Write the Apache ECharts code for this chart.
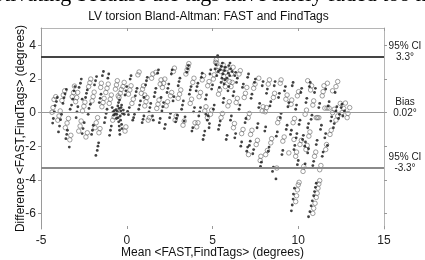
<!DOCTYPE html>
<html>
<head>
<meta charset="utf-8">
<script src="https://cdn.jsdelivr.net/npm/echarts@6/dist/echarts.min.js"></script>
<style>
html,body{margin:0;padding:0;background:#fff;}
#chart{width:425px;height:260px;}
</style>
</head>
<body>
<div id="chart"></div>
<script>
// ---- data ----
const titleText = 'LV torsion Bland-Altman: FAST and FindTags';
const xName = 'Mean <FAST,FindTags> (degrees)';
const yName = 'Difference <FAST,FindTags> (degrees)';
const captionText = 'motivating because the tags have likely faded too much';
const xTicks = [-5, 0, 5, 10, 15];
const yTicks = [-6, -4, -2, 0, 2, 4];
const xRange = [-5, 15];
const yRange = [-6.93, 5.04];
const limitValues = [3.3, 0.02, -3.3];
const limitLabels = ['95% CI\n3.3\u00b0', 'Bias\n0.02\u00b0', '95% CI\n-3.3\u00b0'];

const filledPoints = [
[-4.32,-0.62],[-4.28,-0.35],[-4.22,0.05],[-4.18,0.42],[-4.1,0.66],[-4.05,0.9],
[-3.98,-1.15],[-3.92,-0.8],[-3.86,-0.42],[-3.8,-0.1],
[-3.72,0.55],[-3.66,0.88],[-3.6,1.12],[-3.52,1.38],
[-3.55,-1.55],[-3.5,-1.3],[-3.46,-1.05],[-3.35,-2.05],
[-3.3,0.2],[-3.22,0.45],[-3.15,0.8],[-3.08,1.3],[-3.02,1.55],
[-2.95,-0.3],[-2.9,0.05],[-2.85,0.35],[-2.78,1.5],[-2.7,1.75],[-2.65,2.0],
[-2.6,-1.25],[-2.55,-0.95],[-2.48,-0.6],[-2.4,0.9],[-2.35,1.15],[-2.3,1.35],
[-2.25,-0.1],[-2.2,0.25],[-2.12,0.5],[-2.05,-1.3],[-2.0,-1.05],[-1.95,-0.75],
[-1.88,1.65],[-1.82,1.9],[-1.76,2.15],[-1.72,-2.25],[-1.68,-2.0],[-1.64,-1.8],[-1.8,-2.55],
[-1.6,0.6],[-1.55,0.85],[-1.5,1.1],[-2.6,0.8],
[-1.42,2.2],[-1.36,2.45],[-1.3,-0.6],[-1.25,-0.3],[-1.2,-0.05],[-1.15,0.2],
[-1.1,2.05],[-1.05,2.3],[-1.0,-1.35],[-0.95,-1.05],[-0.9,-0.8],
[-0.85,0.3],[-0.8,0.05],[-0.76,-0.15],[-0.72,0.12],[-0.68,-0.05],[-0.62,0.18],
[-0.58,-0.1],[-0.55,0.08],[-0.5,-0.3],[-0.47,-0.55],[-0.44,-0.8],[-0.42,-1.05],[-0.4,-1.3],
[-0.38,-0.2],[-0.35,0.1],[-0.33,0.3],[-0.3,0.45],[-0.25,-0.05],[-0.2,0.15],[-0.15,-0.1],
[-0.3,-0.7],[-0.28,-0.95],[-0.1,1.05],[-0.05,1.3],[0.0,1.55],
[-0.45,0.25],[-0.52,0.4],[-0.36,-0.45],[-0.6,-0.35],[-0.48,0.6],[-0.42,0.75],
[0.05,0.08],[0.1,-0.12],[0.15,0.3],[0.2,2.0],[0.25,2.2],[0.35,-0.45],[0.4,-0.3],[0.45,-0.1],
[0.5,1.0],[0.55,1.25],[0.6,1.45],[0.7,0.2],[0.75,0.45],[0.8,0.7],
[0.9,-0.6],[0.95,-0.4],[1.0,-0.2],[1.1,1.65],[1.15,1.9],[1.2,2.1],[1.0,0.9],
[1.3,0.05],[1.35,0.3],[1.4,0.55],[1.5,-0.2],[1.55,-0.45],[1.6,0.95],[1.65,1.2],[1.7,1.45],
[1.8,2.35],[1.85,2.55],[1.9,-0.6],[1.95,-0.35],[2.0,0.9],
[2.05,0.1],[2.1,0.35],[2.15,0.6],[2.2,-0.95],[2.25,-0.7],[2.35,1.2],[2.4,1.45],[2.45,1.7],
[2.5,-0.3],[2.55,-0.05],[2.6,2.3],[2.65,2.55],[2.7,0.7],[2.75,0.95],
[2.85,-0.55],[2.9,-0.35],[2.95,-0.15],[3.0,1.6],[3.05,1.85],[3.1,2.05],
[3.2,0.2],[3.25,0.45],[3.3,0.7],[3.35,-0.5],[3.4,-0.25],[3.5,2.4],[3.55,2.6],[3.6,2.8],
[3.65,1.1],[3.7,1.35],[3.75,1.55],[3.8,-1.1],[3.85,-0.9],[3.9,0.05],[3.95,0.3],
[4.05,1.3],[4.1,1.55],[4.15,1.75],[4.2,-0.2],[4.25,0.05],[4.3,0.3],[4.35,2.1],[4.4,2.35],
[4.45,-1.6],[4.5,-1.35],[4.55,-1.1],[4.6,0.8],[4.65,1.05],[4.7,-0.45],[4.75,-0.2],[4.8,-0.9],[4.82,-0.65],[4.62,-0.1],
[4.85,2.3],[4.9,2.55],[4.95,1.4],[5.0,1.65],[5.05,0.2],[5.1,0.45],[5.15,2.6],[5.2,2.85],[5.3,3.4],
[5.35,-1.0],[5.4,-0.75],[5.45,-0.5],[5.5,1.8],[5.55,2.05],[5.6,2.3],[5.62,0.6],[5.66,0.85],
[5.7,2.5],[5.75,2.7],[5.8,-1.6],[5.85,-1.35],[5.9,1.3],[5.95,1.55],[6.0,2.2],
[5.45,2.55],[5.52,2.75],[5.58,2.95],[5.68,1.7],[5.72,1.95],[5.85,2.05],[5.92,2.35],[6.05,2.6],[5.4,1.5],
[5.25,2.2],[5.33,2.45],[5.95,2.8],[6.02,2.95],[6.3,2.2],[6.35,2.4],
[6.05,-0.45],[6.1,-0.2],[6.15,2.45],[6.2,1.0],[6.25,1.25],[6.3,-1.5],[6.35,-1.25],[6.4,1.8],[6.45,2.05],
[6.55,0.2],[6.6,0.45],[6.65,-2.0],[6.7,-1.75],[6.75,1.5],[6.8,1.7],[6.9,-0.6],[6.95,-0.35],
[7.0,-2.3],[7.05,-2.05],
[7.05,2.1],[7.1,2.3],[7.15,-1.95],[7.2,-1.7],[7.25,0.85],[7.3,1.1],[7.35,-2.45],[7.4,-2.2],[7.45,1.8],[7.5,2.0],
[7.6,-0.9],[7.65,-0.65],[7.7,0.3],[7.75,0.55],[7.8,-3.2],[7.85,-2.95],[7.9,1.6],[7.95,1.85],
[8.05,-1.1],[8.1,-0.85],[8.15,1.15],[8.2,1.4],[8.25,-2.3],[8.3,-2.05],[8.35,0.4],[8.4,0.65],
[8.5,-3.5],[8.55,-3.25],[8.6,1.6],[8.65,1.85],[8.7,-3.95],[8.72,-1.4],[8.78,-1.15],[8.85,0.9],[8.9,1.15],
[8.95,-0.3],[9.0,-0.05],[9.05,-2.5],[9.1,-2.25],[9.2,1.3],[9.25,1.55],[9.3,-1.0],[9.35,-0.75],[9.4,0.35],[9.45,0.6],
[9.6,-5.85],[9.65,-5.5],[9.7,-5.15],[9.72,-4.85],[9.78,-4.5],
[10.6,-6.2],[10.68,-5.9],[10.75,-5.55],[10.82,-5.25],[10.9,-4.95],[10.95,-4.7],[11.0,-4.45],[11.05,-4.2],
[9.55,-1.3],[9.6,-1.05],[9.65,1.6],[9.7,1.8],[9.75,-2.2],[9.8,-1.95],[9.85,0.2],[9.9,0.45],
[9.88,-1.5],[9.92,-1.25],
[9.95,-3.1],[10.0,-2.85],[10.05,-0.7],[10.1,-0.45],[10.15,1.2],[10.2,1.45],[10.25,-1.6],[10.3,-1.35],
[10.35,-3.3],[10.4,-3.05],[10.45,0.6],[10.5,0.85],[10.55,-2.4],[10.6,-2.15],[10.65,1.55],[10.7,1.8],
[10.38,-2.0],[10.42,-1.75],[10.55,-0.9],[10.6,-0.65],
[10.75,-0.4],[10.8,-0.15],[10.85,-3.15],[10.9,-2.9],[10.95,1.2],[11.0,1.45],[11.05,-1.9],[11.1,-1.65],
[11.2,0.3],[11.25,0.55],[11.3,-1.0],[11.35,-0.75],[11.4,-2.6],[11.45,-2.35],
[11.55,-1.5],[11.6,-1.25],[11.7,-1.95],[11.75,0.4],[11.8,0.65],[11.9,-0.5],[11.95,-0.25],[12.05,-0.9],[12.1,-0.65],
[12.2,0.1],[12.25,0.35],[12.35,-0.35],[12.4,-0.1],[12.5,0.3],[12.55,0.5],[12.6,-0.2],[12.7,0.1],[11.6,1.4],[12.15,1.2]
];

const openPoints = [
[-4.36,0.02],[-4.3,0.3],[-4.24,0.78],[-4.14,0.95],
[-4.02,-0.45],[-3.95,-0.2],[-3.88,0.1],
[-3.78,0.72],[-3.7,1.05],[-3.62,1.3],
[-3.58,-0.9],[-3.48,-0.62],[-3.4,-0.35],[-3.32,-1.62],[-3.26,-1.35],
[-3.18,0.95],[-3.1,1.2],[-3.05,1.58],
[-2.98,0.65],[-2.92,0.9],[-2.86,1.2],[-2.8,-1.1],[-2.72,-0.8],[-2.66,-0.5],
[-2.58,0.1],[-2.5,0.38],[-2.44,0.62],[-2.38,-1.45],[-2.3,-1.2],
[-2.22,1.55],[-2.15,1.78],[-2.1,2.0],[-2.02,0.7],[-1.96,0.95],[-1.9,1.22],
[-1.85,-0.9],[-1.78,-0.6],[-1.7,-0.3],[-1.62,-1.2],[-1.56,-0.95],[-1.52,1.5],[-1.48,1.75],
[-1.45,0.35],[-1.38,0.6],[-1.32,0.85],[-1.22,1.2],[-1.15,1.45],[-1.08,1.7],
[-1.02,0.55],[-0.96,0.8],[-0.9,1.05],[-0.82,-0.45],[-0.74,-0.25],[-0.66,1.4],[-0.6,1.65],[-0.55,1.9],
[-0.45,0.9],[-0.38,1.15],[-0.32,1.38],[-0.22,1.55],[-0.15,1.8],[-0.1,-1.1],[-0.05,-0.85],[-0.5,1.0],
[0.1,1.1],[0.18,1.35],[0.25,1.6],[0.3,0.55],[0.38,0.8],
[0.65,2.25],[0.72,2.42],[0.85,1.15],[0.92,1.4],[0.98,1.6],[1.05,1.05],
[1.05,0.4],[1.12,0.65],[1.18,0.9],[1.25,-0.45],[1.32,-0.3],
[1.45,2.05],[1.52,2.3],[1.7,2.4],[1.75,0.25],[1.82,0.5],[1.88,0.75],[1.95,1.7],[2.0,1.95],
[2.08,1.5],[2.15,1.75],[2.22,2.0],[2.3,0.4],[2.38,0.65],[2.55,1.0],[2.62,1.2],
[2.72,2.45],[2.78,2.65],[2.82,-0.45],[2.88,-0.2],[3.0,0.85],[3.08,1.1],[3.15,1.35],
[3.28,-0.75],[3.35,-0.5],[3.45,2.3],[3.52,2.55],[3.58,2.75],[3.62,2.92],[3.7,0.55],[3.78,0.8],
[3.85,1.8],[3.92,2.05],[3.98,-0.6],
[4.08,-0.85],[4.15,-0.6],[4.22,0.95],[4.3,1.2],[4.4,1.95],[4.48,2.2],[4.55,0.1],[4.62,0.35],
[4.72,1.6],[4.8,1.85],[4.88,-0.1],[4.95,0.15],[5.05,2.0],[5.1,2.25],[5.18,3.0],[5.22,3.15],[5.25,2.95],[4.7,-0.3],
[5.35,1.1],[5.42,1.35],[5.5,-0.3],[5.58,-0.05],[5.65,2.15],[5.7,1.9],[5.78,2.4],[5.82,2.6],[5.9,0.4],[5.98,0.65],
[5.48,2.45],[5.55,2.65],[5.62,2.85],[5.75,1.55],[6.0,1.85],[6.1,2.3],[5.3,2.5],[5.38,2.7],[6.2,2.7],
[6.08,1.55],[6.15,1.8],[6.22,-0.9],[6.28,-0.65],[6.38,0.6],[6.45,0.85],[6.55,2.3],[6.62,2.5],
[6.7,-1.25],[6.78,-1.0],[6.85,0.9],[6.92,1.15],[7.0,1.5],[7.08,-0.3],[7.15,-0.05],[7.22,-1.3],[7.3,-1.05],
[7.4,1.45],[7.48,1.7],[7.55,-1.9],[7.62,-1.65],[7.7,2.05],[7.78,-2.85],[7.82,-2.6],[7.9,0.1],[7.95,0.35],[7.1,-2.5],
[8.08,0.05],[8.15,0.3],[8.25,1.7],[8.32,1.95],[8.4,-1.8],[8.45,-1.55],[8.55,0.9],[8.62,1.15],[8.1,-2.5],[8.2,-2.25],
[8.75,-3.3],[8.8,-0.6],[8.88,-0.35],[8.95,1.75],[9.0,1.95],[9.1,-1.7],[9.18,-1.45],[9.28,0.8],[9.35,1.05],[9.45,-2.4],
[9.85,-5.3],[9.9,-4.95],[9.95,-4.6],[10.0,-4.3],[10.05,-4.15],
[10.85,-6.0],[10.9,-5.7],[10.98,-5.4],[11.05,-5.05],[11.1,-4.8],[11.15,-4.5],[11.2,-4.25],[11.25,-4.05],
[9.58,0.5],[9.62,0.75],[9.7,-0.6],[9.78,-0.35],[9.85,-2.6],[9.9,-2.35],[9.95,1.0],[10.02,1.25],[9.75,-1.6],
[10.1,-1.9],[10.18,-1.65],[10.28,-3.5],[10.32,-3.2],[10.4,-0.1],[10.48,0.15],[10.55,1.9],[10.62,-1.4],[10.68,-1.15],
[10.45,-2.2],[10.52,-1.95],
[10.72,1.35],[10.78,1.6],[10.85,0.45],[10.9,0.7],[10.95,-2.6],[11.02,-2.35],[11.05,-0.3],[11.12,-0.3],[11.2,-0.3],
[11.25,-3.4],[11.32,-3.15],[11.4,1.0],[11.45,1.25],[11.6,-2.2],[11.65,-1.9],
[11.55,0.27],[11.68,0.27],[11.8,0.27],[11.85,-1.3],[11.92,-1.05],[12.0,0.0],[12.1,0.2],[12.2,-0.45],[12.3,-0.2],
[12.45,0.55],[12.55,0.0],[12.65,0.25],[12.75,0.57],[12.85,-0.3],[12.9,-0.05],[13.0,0.3],
[11.5,1.6],[11.7,1.75],[12.0,1.3],[12.2,1.55],[12.3,1.85]
];

// ---- chart ----
const FONT = '"Liberation Sans", Arial, sans-serif';
const AX = '#9a9a9a';
const chart = echarts.init(document.getElementById('chart'), null, {renderer: 'canvas'});

const limitStyles = [
  {color: '#444', width: 2},
  {color: '#999', width: 1},
  {color: '#8a8a8a', width: 2}
];

chart.setOption({
  animation: false,
  backgroundColor: '#fff',
  title: {
    text: titleText, left: 208.5, top: 11, textAlign: 'center', padding: 0,
    textStyle: {fontFamily: FONT, fontSize: 12, fontWeight: 'normal', color: '#111'}
  },
  grid: {left: 41, top: 28, width: 343, height: 201, containLabel: false, outerBoundsMode: 'none'},
  xAxis: [{
    type: 'value', min: xRange[0], max: xRange[1], position: 'bottom',
    axisLine: {show: false, onZero: false},
    axisTick: {show: true, inside: true, length: 3, customValues: xTicks, lineStyle: {color: AX}},
    axisLabel: {customValues: xTicks, fontFamily: FONT, fontSize: 12, color: '#222', margin: 6},
    splitLine: {show: false},
    name: xName, nameLocation: 'middle', nameGap: 18, nameMoveOverlap: false,
    nameTextStyle: {fontFamily: FONT, fontSize: 12, color: '#111'}
  }, {
    type: 'value', min: xRange[0], max: xRange[1], position: 'top',
    axisLine: {show: true, onZero: false, lineStyle: {color: '#b5b5b5'}},
    axisTick: {show: true, inside: true, length: 3, customValues: xTicks, lineStyle: {color: AX}},
    axisLabel: {show: false}, splitLine: {show: false}
  }],
  yAxis: [{
    type: 'value', min: yRange[0], max: yRange[1], position: 'left',
    axisLine: {show: true, onZero: false, lineStyle: {color: AX}},
    axisTick: {show: true, inside: false, length: 3, customValues: yTicks, lineStyle: {color: AX}},
    axisLabel: {customValues: yTicks, fontFamily: FONT, fontSize: 12, color: '#222', margin: 5},
    splitLine: {show: false},
    name: yName, nameLocation: 'middle', nameGap: 14, nameRotate: 90, nameMoveOverlap: false,
    nameTextStyle: {fontFamily: FONT, fontSize: 12, color: '#111'}
  }, {
    type: 'value', min: yRange[0], max: yRange[1], position: 'right',
    axisLine: {show: true, onZero: false, lineStyle: {color: '#b5b5b5'}},
    axisTick: {show: true, inside: false, length: 3, customValues: yTicks, lineStyle: {color: AX}},
    axisLabel: {show: false}, splitLine: {show: false}
  }],
  series: [{
    type: 'scatter', name: 'open', data: openPoints, symbol: 'circle', symbolSize: 4.5,
    itemStyle: {color: 'rgba(255,255,255,0)', borderColor: '#6a6a6a', borderWidth: 0.8},
    silent: true, z: 3
  }, {
    type: 'scatter', name: 'filled', data: filledPoints, symbol: 'circle', symbolSize: 2.8,
    itemStyle: {color: '#111'}, silent: true, z: 4,
    markLine: {
      silent: true, symbol: 'none', label: {show: false},
      data: limitValues.map((v, i) => ({yAxis: v, lineStyle: {type: 'solid', color: limitStyles[i].color, width: limitStyles[i].width}}))
    }
  }]
});

const rightX = chart.convertToPixel({xAxisIndex: 0}, xRange[1]);
const graphics = limitValues.map((v, i) => {
  const py = chart.convertToPixel({yAxisIndex: 0}, v);
  return {
    type: 'text', x: rightX + 21, y: py - 5, silent: true,
    style: {text: limitLabels[i], fontFamily: FONT, fontSize: 10, fill: '#222', align: 'center', verticalAlign: 'middle', lineHeight: 11}
  };
});
graphics.push({
  type: 'text', x: -24, y: -4.5, silent: true,
  style: {text: captionText, fontFamily: '"Liberation Serif", "Times New Roman", serif', fontSize: 22, fill: '#000', align: 'left', verticalAlign: 'middle'}
});
chart.setOption({graphic: graphics});
</script>
</body>
</html>
